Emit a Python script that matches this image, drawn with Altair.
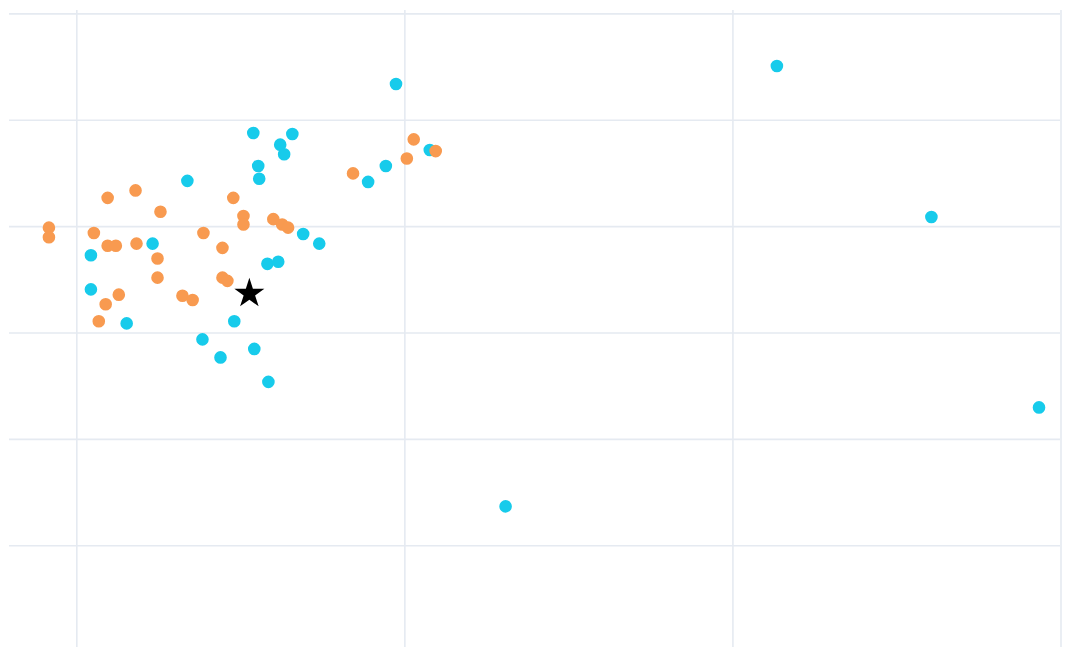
import altair as alt
import pandas as pd

# Orange series (x, y in grid units)
orange_x = [-0.085, -0.085, 0.094, 0.179, 0.255, 0.052, 0.094, 0.119, 0.182, 0.246,
            0.246, 0.128, 0.088, 0.067, 0.322, 0.353, 0.386, 0.444, 0.477, 0.508,
            0.508, 0.444, 0.459, 0.599, 0.626, 0.644, 0.842, 1.006, 1.027, 1.094]
orange_y = [3.99, 3.90, 4.27, 4.34, 4.14, 3.94, 3.82, 3.82, 3.84, 3.70,
            3.52, 3.36, 3.27, 3.11, 3.35, 3.31, 3.94, 3.80, 4.27, 4.10,
            4.02, 3.52, 3.49, 4.07, 4.02, 3.99, 4.50, 4.64, 4.82, 4.71]

# Cyan series
cyan_x = [0.538, 0.657, 0.620, 0.632, 0.553, 0.556, 0.337, 0.231, 0.043, 0.043,
          0.152, 0.690, 0.739, 0.581, 0.614, 0.480, 0.383, 0.438, 0.541, 0.584,
          0.973, 0.942, 0.888, 1.076, 2.134, 2.605, 2.933, 1.307]
cyan_y = [4.88, 4.87, 4.77, 4.68, 4.57, 4.45, 4.43, 3.84, 3.73, 3.41,
          3.09, 3.93, 3.84, 3.65, 3.67, 3.11, 2.94, 2.77, 2.85, 2.54,
          5.34, 4.57, 4.42, 4.72, 5.51, 4.09, 2.30, 1.37]

# Star marker
star_x = [0.526]
star_y = [3.37]

x_ticks = [0, 1, 2, 3]
y_ticks = [1, 2, 3, 4, 5, 6]

df_o = pd.DataFrame({"x": orange_x, "y": orange_y})
df_c = pd.DataFrame({"x": cyan_x, "y": cyan_y})
df_s = pd.DataFrame({"sx": star_x, "sy": star_y})
df_gx = pd.DataFrame({"x": x_ticks})
df_gy = pd.DataFrame({"y": y_ticks})

xs = alt.Scale(domain=[-0.2067, 2.997], nice=False, zero=False)
ys = alt.Scale(domain=[0.047, 6.037], nice=False, zero=False)

X = alt.X("x:Q", scale=xs, axis=None)
Y = alt.Y("y:Q", scale=ys, axis=None)

STAR_PATH = ("M0,-1L0.2245,-0.309L0.9511,-0.309L0.3633,0.118L0.5878,0.809"
             "L0,0.382L-0.5878,0.809L-0.3633,0.118L-0.9511,-0.309L-0.2245,-0.309Z")

grid_x = alt.Chart(df_gx).mark_rule(color="#E5EAF1", strokeWidth=1.6).encode(x=X)
grid_y = alt.Chart(df_gy).mark_rule(color="#E5EAF1", strokeWidth=1.6).encode(y=Y)

cyan = alt.Chart(df_c).mark_circle(size=160, color="#17CBEB", opacity=1).encode(x=X, y=Y)
orange = alt.Chart(df_o).mark_circle(size=160, color="#F89A50", opacity=1).encode(x=X, y=Y)
star = alt.Chart(df_s).mark_point(
    shape=STAR_PATH, filled=True, size=1000, fill="#000000", stroke="#000000",
    strokeWidth=0, opacity=1
).encode(
    x=alt.X("sx:Q", scale=xs, axis=None),
    y=alt.Y("sy:Q", scale=ys, axis=None),
)

chart = alt.layer(grid_x, grid_y, cyan, orange, star).properties(
    width=1054, height=639, padding=0
).configure_view(stroke=None)

chart.save("out.html", embed_options={"renderer": "svg", "actions": False})
